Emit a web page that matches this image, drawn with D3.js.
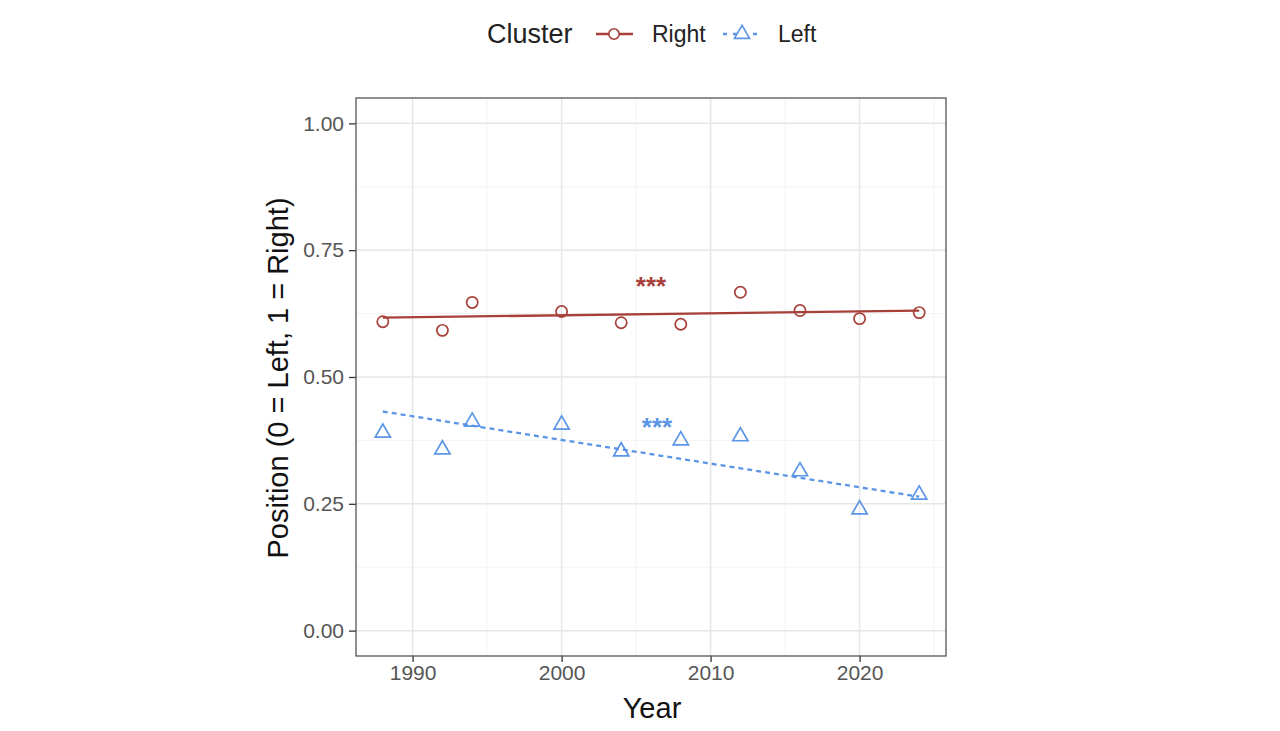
<!DOCTYPE html>
<html><head><meta charset="utf-8">
<script src="https://cdn.jsdelivr.net/npm/d3@7"></script>
<style>body{margin:0;background:#fff;} text{font-family:"Liberation Sans",Arial,sans-serif;}</style>
</head><body>
<svg id="c" width="1280" height="731"></svg>
<script>
const years = [1988, 1992, 1994, 2000, 2004, 2008, 2012, 2016, 2020, 2024];
const rightValues = [0.609, 0.592, 0.647, 0.629, 0.607, 0.604, 0.667, 0.631, 0.615, 0.627];
const leftValues = [0.390, 0.357, 0.412, 0.406, 0.353, 0.375, 0.383, 0.314, 0.239, 0.268];
const fitYears = [1988, 2024];
const rightFit = [0.617, 0.631];
const leftFit = [0.432, 0.264];
const xTicks = [1990, 2000, 2010, 2020];
const xMinor = [1995, 2005, 2015, 2025];
const yTicks = [0, 0.25, 0.5, 0.75, 1];
const yMinor = [0.125, 0.375, 0.625, 0.875];
const sigLabels = [{text: "***", year: 2006.0, value: 0.690, series: "Right"}, {text: "***", year: 2006.4, value: 0.412, series: "Left"}];

const red = "#A8403A", blue = "#5B95E6";
const svg = d3.select("#c");
const L = 356, R = 946, T = 98, B = 656;
const x = d3.scaleLinear().domain([1986.2, 2025.8]).range([L, R]);
const y = d3.scaleLinear().domain([-0.05, 1.05]).range([B, T]);

// grid
const g = svg.append("g");
g.selectAll(".ymin").data(yMinor).join("line").attr("x1", L).attr("x2", R).attr("y1", d => y(d)).attr("y2", d => y(d)).attr("stroke", "#F3F3F3").attr("stroke-width", 1);
g.selectAll(".xmin").data(xMinor.filter(d => x(d) < R)).join("line").attr("y1", T).attr("y2", B).attr("x1", d => x(d)).attr("x2", d => x(d)).attr("stroke", "#F3F3F3").attr("stroke-width", 1);
g.selectAll(".ymaj").data(yTicks).join("line").attr("x1", L).attr("x2", R).attr("y1", d => y(d)).attr("y2", d => y(d)).attr("stroke", "#E6E6E6").attr("stroke-width", 1.5);
g.selectAll(".xmaj").data(xTicks).join("line").attr("y1", T).attr("y2", B).attr("x1", d => x(d)).attr("x2", d => x(d)).attr("stroke", "#E6E6E6").attr("stroke-width", 1.5);

// axes
const xAxis = svg.append("g").attr("transform", `translate(0,${B})`).call(d3.axisBottom(x).tickValues(xTicks).tickFormat(d3.format("d")).tickSize(6).tickPadding(3));
const yAxis = svg.append("g").attr("transform", `translate(${L},0)`).call(d3.axisLeft(y).tickValues(yTicks).tickFormat(d3.format(".2f")).tickSize(7).tickPadding(5));
[xAxis, yAxis].forEach(a => {
  a.select(".domain").remove();
  a.attr("font-size", null).attr("font-family", null);
  a.selectAll(".tick line").attr("stroke", "#333").attr("stroke-width", 1.3);
  a.selectAll(".tick text").attr("fill", "#555").style("font-size", "21px");
});

// border
svg.append("rect").attr("x", L).attr("y", T).attr("width", R - L).attr("height", B - T).attr("fill", "none").attr("stroke", "#555").attr("stroke-width", 1.3);

// fit lines
const line = d3.line().x(d => x(d[0])).y(d => y(d[1]));
svg.append("path").datum(fitYears.map((d, i) => [d, rightFit[i]])).attr("d", line).attr("stroke", red).attr("stroke-width", 2.3).attr("fill", "none");
svg.append("path").datum(fitYears.map((d, i) => [d, leftFit[i]])).attr("d", line).attr("stroke", blue).attr("stroke-width", 2.3).attr("stroke-dasharray", "5,4").attr("fill", "none");

// points
svg.selectAll(".rp").data(years.map((d, i) => [d, rightValues[i]])).join("circle")
  .attr("cx", d => x(d[0])).attr("cy", d => y(d[1])).attr("r", 5.6).attr("fill", "none").attr("stroke", red).attr("stroke-width", 1.7);
const tri = d3.symbol().type(d3.symbolTriangle).size(100);
svg.selectAll(".lp").data(years.map((d, i) => [d, leftValues[i]])).join("path")
  .attr("d", tri).attr("transform", d => `translate(${x(d[0])},${y(d[1])})`).attr("fill", "none").attr("stroke", blue).attr("stroke-width", 1.7);

// significance
const sigFs = 26;
svg.selectAll(".sig").data(sigLabels).join("text")
  .attr("x", d => x(d.year)).attr("y", d => y(d.value) + 0.57 * sigFs).attr("text-anchor", "middle")
  .attr("fill", d => d.series === "Right" ? red : blue).style("font-size", sigFs + "px").style("font-weight", "bold").text(d => d.text);

// axis titles
svg.append("text").attr("x", 652).attr("y", 718).attr("text-anchor", "middle").style("font-size", "29px").attr("fill", "#111").text("Year");
svg.append("text").attr("transform", `translate(288,378) rotate(-90)`).attr("text-anchor", "middle").style("font-size", "29px").attr("fill", "#111").text("Position (0 = Left, 1 = Right)");

// legend
const lg = svg.append("g");
lg.append("text").attr("x", 487).attr("y", 43).style("font-size", "27px").attr("fill", "#222").text("Cluster");
lg.append("line").attr("x1", 596).attr("x2", 633).attr("y1", 34).attr("y2", 34).attr("stroke", red).attr("stroke-width", 2.3);
lg.append("circle").attr("cx", 614).attr("cy", 34).attr("r", 5.2).attr("fill", "#fff").attr("stroke", red).attr("stroke-width", 1.6);
lg.append("text").attr("x", 652).attr("y", 42).style("font-size", "23px").attr("fill", "#222").text("Right");
lg.append("line").attr("x1", 723).attr("x2", 761).attr("y1", 34).attr("y2", 34).attr("stroke", blue).attr("stroke-width", 2.3).attr("stroke-dasharray", "4,6");
lg.append("path").attr("d", tri).attr("transform", "translate(742,34)").attr("fill", "#fff").attr("stroke", blue).attr("stroke-width", 1.6);
lg.append("text").attr("x", 778).attr("y", 42).style("font-size", "23px").attr("fill", "#222").text("Left");
</script>
</body></html>
